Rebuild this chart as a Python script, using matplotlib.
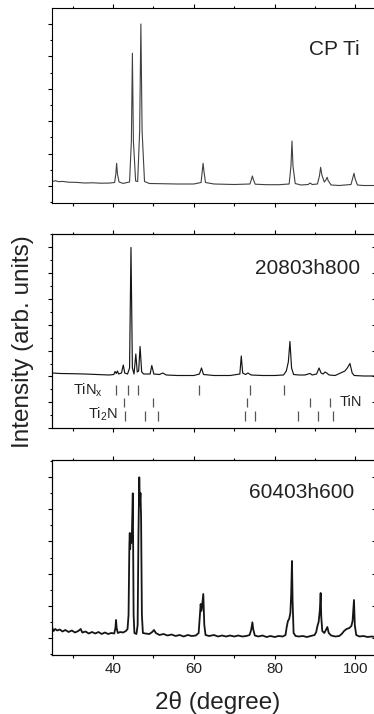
import matplotlib
matplotlib.use("Agg")
import matplotlib.pyplot as plt
from matplotlib.ticker import MultipleLocator

plt.rcParams["font.family"] = ["Liberation Sans", "DejaVu Sans"]
plt.rcParams["mathtext.fontset"] = "custom"
plt.rcParams["mathtext.rm"] = "Liberation Sans"

# --- CP Ti pattern (2theta, intensity arb. units) ---
cpti_tth = [25, 25.8, 26.5, 27.5, 29, 31, 33, 35, 37, 39, 40.4, 40.7, 40.9, 41.1, 41.5,
            42.5, 44.1, 44.55, 44.8, 45.05, 45.6, 46.1, 46.6, 46.9, 47.2, 47.8, 49, 52, 56,
            60, 61.8, 62.1, 62.3, 62.5, 62.9, 65, 70, 73.9, 74.3, 74.5, 74.7, 75.2, 78, 81,
            83.6, 84.05, 84.3, 84.55, 85.1, 86.5, 88.3, 88.8, 89.3, 90.6, 91.1, 91.4, 91.7,
            92.3, 92.7, 93.0, 93.3, 94.0, 96, 98.9, 99.35, 99.65, 99.95, 100.5, 102, 105]
cpti_int = [19.5, 20.3, 19.3, 19.6, 18.8, 18.6, 18.0, 18.2, 17.8, 17.9, 18.5, 27, 37.7, 27, 19,
            17.6, 19, 60, 147.7, 60, 20, 19.5, 70, 177, 70, 19.5, 17.5, 17.3, 17.0,
            17.0, 18.5, 30, 37.7, 30, 18.5, 17, 16.5, 17, 22, 25, 22, 16.8, 16.3, 16.3,
            17, 35, 60, 35, 17.5, 16, 16.5, 18, 16.5, 17, 25, 33.7, 26,
            19, 21, 23.7, 20, 16, 15.5, 16.5, 23, 27.7, 22, 16, 15.5, 15.5]

# --- 20803h800 pattern ---
s2_tth = [25, 27, 30, 33, 36, 39, 40.2, 40.5, 40.8, 41.1, 41.4, 42.1, 42.55, 42.9, 43.6,
          44.1, 44.45, 44.8, 45.2, 45.65, 46.0, 46.35, 46.7, 47.1, 47.6, 49.2, 49.6, 50.1,
          51.5, 52.3, 53.2, 56, 60, 61.4, 61.9, 62.4, 65, 69, 71.4, 71.75, 72.1, 72.8, 73.4,
          74.2, 77, 80, 82.2, 82.9, 83.4, 83.8, 84.2, 84.7, 86, 87.5, 88.3, 88.8, 89.3, 90.4,
          91.0, 91.5, 92.0, 92.5, 92.9, 93.5, 95, 97.4, 98.0, 98.65, 99.2, 99.7, 102, 105]
s2_int = [55, 54.5, 54.3, 54, 53.5, 53, 53.5, 56.5, 54.5, 57, 54, 55, 63, 55, 54,
          60, 180.5, 60, 54, 74, 56, 57, 81.5, 56, 54, 54, 62.5, 54,
          53.5, 55, 53, 52.5, 52.5, 54, 60, 53.5, 52.5, 52.5, 54, 72, 55, 53.5, 55,
          53, 52.5, 52.5, 53, 57, 66, 86.5, 60, 53.5, 53, 53, 54, 54.5, 53, 54,
          60, 55, 54, 56, 55, 53, 52.5, 57, 60, 64.5, 55, 52.5, 52, 52]

# reference lines
tinx_pos = [40.7, 43.7, 46.3, 61.2, 73.9, 82.4]
tin_pos = [42.7, 49.8, 73.1, 88.8, 93.8]
ti2n_pos = [43.0, 47.9, 51.2, 72.7, 75.2, 85.9, 90.8, 94.35]

# --- 60403h600 pattern ---
s3_tth = [25, 25.3, 25.7, 26.2, 26.8, 27.5, 28.2, 29, 29.8, 30.6, 31.4, 32.0, 32.4, 33.2,
          34, 34.8, 35.6, 36.4, 37.2, 38, 38.8, 39.6, 40.3, 40.6, 40.75, 40.9, 41.2, 41.8,
          42.5, 43.2, 43.6, 43.85, 44.05, 44.15, 44.25, 44.35, 44.5, 44.7, 44.9, 45.1, 45.3,
          45.8, 46.1, 46.3, 46.5, 46.65, 46.8, 46.95, 47.15, 47.4, 48, 49, 49.7, 50.15, 50.6,
          51.5, 52.5, 53.5, 54.5, 55.5, 56.5, 57.5, 58.5, 59.5, 60.5, 61.2, 61.5, 61.7,
          61.85, 62.0, 62.35, 62.6, 62.9, 63.8, 65, 66, 67, 68, 69, 70, 71, 72, 73, 73.8,
          74.2, 74.5, 74.7, 75.1, 76, 77, 78, 79, 80, 81, 82, 82.7, 83.0, 83.3, 83.6, 83.9,
          84.1, 84.3, 84.45, 84.7, 85.2, 86, 87, 88, 89, 89.9, 90.3, 90.6, 90.9, 91.2, 91.4,
          91.55, 91.8, 92.3, 92.7, 93.05, 93.4, 94, 95, 96, 96.6, 97.2, 97.8, 98.5, 99.0,
          99.3, 99.65, 99.85, 100.2, 101, 102, 103, 104, 105]
s3_int = [27, 24, 26, 24.5, 25.5, 23.5, 25, 23, 24.5, 22.5, 24, 26, 22.5, 23.5,
          21.5, 23, 21.5, 23, 21, 22.5, 21, 22, 21.5, 27, 35, 27, 22, 23,
          22.5, 24, 26, 40, 110, 122, 106, 118, 112, 125, 161.7, 40, 22,
          21, 30, 120, 177.7, 150, 162, 138, 40, 22, 21.5, 21, 23, 25, 22,
          20, 21, 19.5, 20.5, 19, 20, 18.5, 20, 19, 19.5, 22, 40, 51,
          44, 47, 61, 30, 20, 19, 20, 18.5, 19.5, 18.5, 19.5, 18.5, 19.5, 18.5, 19, 20,
          25, 32.7, 26, 19.5, 18.5, 19.5, 18, 19, 18, 19, 18.5, 20, 28, 34, 36, 42,
          60, 94, 55, 22, 19, 18.5, 19, 18, 19, 20, 23, 29, 33, 45, 62,
          38, 24, 22, 25, 28, 22, 19.5, 18.5, 19, 21, 24, 26, 27, 29,
          34, 55, 30, 20, 18.5, 19, 18, 18.5, 18]

TXT = "#222222"

fig = plt.figure(figsize=(3.74, 7.14), dpi=100)
left, width = 52.4 / 374, 323.2 / 374
ax1 = fig.add_axes([left, (714 - 202.7) / 714, width, 194.4 / 714])
ax2 = fig.add_axes([left, (714 - 428) / 714, width, 193.7 / 714])
ax3 = fig.add_axes([left, (714 - 655) / 714, width, 195 / 714])


def style(ax, ylim, ybase, yoff, right_ticks):
    ax.set_xlim(25, 105)
    ax.set_ylim(*ylim)
    for s in ax.spines.values():
        s.set_linewidth(0.8)
    ax.xaxis.set_major_locator(MultipleLocator(20))
    ax.xaxis.set_minor_locator(MultipleLocator(10))
    ax.yaxis.set_major_locator(MultipleLocator(ybase, offset=yoff))
    ax.yaxis.set_minor_locator(MultipleLocator(ybase / 2, offset=yoff))
    ax.tick_params(which="both", direction="out", top=True, right=False,
                   labelleft=False, width=0.8, labelsize=11, pad=2, colors="black",
                   labelcolor=TXT)
    ax.tick_params(which="major", length=3)
    ax.tick_params(which="minor", length=1.8)
    if right_ticks:
        axr = ax.twinx()
        axr.set_ylim(*ylim)
        axr.yaxis.set_major_locator(MultipleLocator(ybase, offset=yoff))
        axr.yaxis.set_minor_locator(MultipleLocator(ybase / 2, offset=yoff))
        axr.tick_params(which="both", direction="in", labelright=False, width=0.8)
        axr.tick_params(which="major", length=3)
        axr.tick_params(which="minor", length=1.8)
        axr.spines["right"].set_linewidth(0.8)


ax1.plot(cpti_tth, cpti_int, color="#404040", lw=0.8)
style(ax1, (-1.7, 192.7), 32.4, 15, False)
ax1.tick_params(labelbottom=False)
ax1.text(0.952, 0.788, "CP Ti", transform=ax1.transAxes, ha="right", va="center",
         fontsize=15, color=TXT)

ax2.plot(s2_tth, s2_int, color="#151515", lw=0.85)
style(ax2, (0, 193.7), 25.8, 0, True)
ax2.tick_params(labelbottom=False)
ax2.vlines(tinx_pos, 33, 43, color="#555555", lw=0.9)
ax2.vlines(tin_pos, 21, 30, color="#555555", lw=0.9)
ax2.vlines(ti2n_pos, 7, 17, color="#555555", lw=0.9)
ax2.text(37.6, 37.5, r"TiN$_\mathregular{x}$", ha="right", va="center", fontsize=10.5, color=TXT)
ax2.text(41.2, 13.5, r"Ti$_\mathregular{2}$N", ha="right", va="center", fontsize=10.5, color=TXT)
ax2.text(96.2, 25.5, "TiN", ha="left", va="center", fontsize=10.5, color=TXT)
ax2.text(0.952, 0.8235, "20803h800", transform=ax2.transAxes, ha="right", va="center",
         fontsize=15, color=TXT)

ax3.plot(s3_tth, s3_int, color="#151515", lw=1.3)
style(ax3, (0, 195), 32.3, 16.7, True)
ax3.text(0.933, 0.833, "60403h600", transform=ax3.transAxes, ha="right", va="center",
         fontsize=15, color=TXT)

fig.text(23 / 374, (714 - 342) / 714, "Intensity (arb. units)", rotation=90,
         ha="center", va="center", fontsize=17.5, color=TXT)
fig.text(217.5 / 374, (714 - 702) / 714, "2θ (degree)", ha="center", va="center",
         fontsize=17.5, color=TXT)

fig.savefig("out.png", dpi=100)
